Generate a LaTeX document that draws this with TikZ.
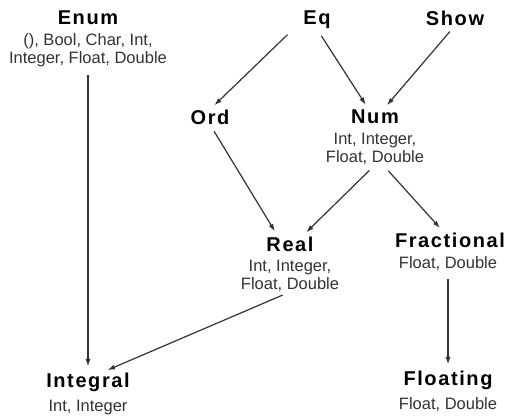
\documentclass[tikz,border=0pt]{standalone}
\usepackage{fontspec}
\setmainfont{Liberation Sans}
\usetikzlibrary{arrows.meta}
\tikzset{
  cls/.style={inner sep=0pt, font=\fontsize{20}{23}\selectfont\bfseries\addfontfeature{LetterSpace=8}},
  lst/.style={inner sep=0pt, align=center, text=black!80, font=\fontsize{16.5}{18}\selectfont},
  arr/.style={draw=black!80, line width=1.2pt, -{Latex[length=7.5pt,width=5pt]}, shorten <=8pt, shorten >=6pt}
}
\begin{document}
\begin{tikzpicture}[x=1pt,y=-1pt]
\useasboundingbox (0,0) rectangle (510,417);

\node[cls] (enum) at (88,18) {Enum};
\node[lst] (enumT) at (88,50) {(), Bool, Char, Int,\\Integer, Float, Double};
\node[cls] (eq) at (317,20) {Eq};
\node[cls] (show) at (455,18) {Show};
\node[cls] (ord) at (210,117) {Ord};
\node[cls] (num) at (375,117) {Num};
\node[lst] (numT) at (375,149) {Int, Integer,\\Float, Double};
\node[cls] (real) at (290,244) {Real};
\node[lst] (realT) at (290,276) {Int, Integer,\\Float, Double};
\node[cls] (frac) at (450,240) {Fractional};
\node[lst] (fracT) at (448,264) {Float, Double};
\node[cls] (integral) at (88,382) {Integral};
\node[lst] (integralT) at (88,408) {Int, Integer};
\node[cls] (floating) at (448,380) {Floating};
\node[lst] (floatingT) at (448,405) {Float, Double};

\draw[arr] (enumT.south) -- (integral.north);
\draw[arr] ([xshift=-10pt]eq.south west) -- (ord.north);
\draw[arr] (eq.south) -- ([xshift=-6pt]num.north);
\draw[arr] (show.south) -- ([xshift=8pt]num.north);
\draw[arr] (ord.south) -- ([xshift=-12pt]real.north);
\draw[arr] (numT.south) -- ([xshift=12pt]real.north);
\draw[arr] ([xshift=8pt]numT.south) -- ([xshift=-6pt]frac.north);
\draw[arr] (realT.south) -- ([xshift=14pt]integral.north);
\draw[arr] (fracT.south) -- (floating.north);
\end{tikzpicture}
\end{document}
